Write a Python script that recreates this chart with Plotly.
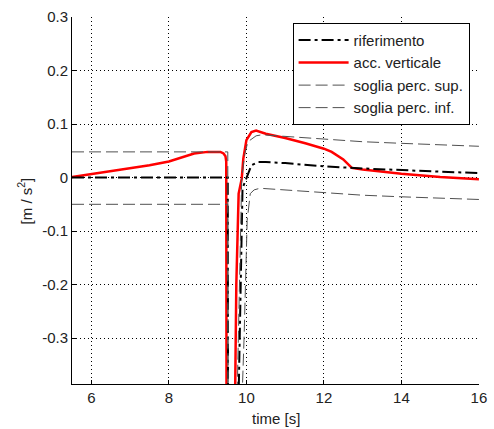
import plotly.graph_objects as go

# --- data ---
t_acc = [5.5, 6.0, 6.72, 7.5, 8.0, 8.4, 8.65, 9.0, 9.33, 9.41, 9.46, 9.48, 9.49, 9.68, 9.74,
         9.8, 9.88, 9.92, 10.0, 10.13, 10.25, 10.5, 11.0, 11.52, 12.0, 12.2, 12.5, 12.72,
         13.0, 14.0, 15.0, 16.0]
acc_vert = [0.001, 0.0065, 0.015, 0.023, 0.030, 0.040, 0.045, 0.048, 0.048, 0.045, 0.04, 0.03,
            -0.6, -0.6, -0.2, -0.03, -0.002, 0.035, 0.07, 0.085, 0.088, 0.082, 0.074, 0.064,
            0.054, 0.048, 0.034, 0.018, 0.015, 0.007, 0.001, -0.003]

t_ref = [5.5, 9.52, 9.53, 9.75, 9.9, 10.0, 10.13, 10.3, 10.5, 11.0, 12.0, 13.0, 14.0, 15.0, 16.0]
riferimento = [0.0, 0.0, -0.6, -0.6, -0.02, 0.0, 0.023, 0.029, 0.029, 0.027, 0.021, 0.017,
               0.0135, 0.011, 0.0085]

t_sup = [5.5, 9.52, 9.53, 9.72, 9.88, 9.96, 10.04, 10.25, 10.4, 11.0, 12.0, 13.0, 14.0, 15.0, 16.0]
soglia_sup = [0.048, 0.048, -0.55, -0.55, 0.0, 0.045, 0.067, 0.078, 0.08, 0.077, 0.071, 0.067,
              0.064, 0.061, 0.0585]

t_inf = [5.5, 9.52, 9.53, 9.78, 9.94, 10.02, 10.1, 10.2, 10.35, 11.0, 12.0, 13.0, 14.0, 15.0, 16.0]
soglia_inf = [-0.05, -0.05, -0.65, -0.65, -0.3, -0.08, -0.03, -0.023, -0.02, -0.023, -0.029,
              -0.033, -0.036, -0.039, -0.041]

x_ticks = [6, 8, 10, 12, 14, 16]
y_ticks = [-0.3, -0.2, -0.1, 0, 0.1, 0.2, 0.3]
y_ticktext = ["-0.3", "-0.2", "-0.1", "0", "0.1", "0.2", "0.3"]

FONT = "Liberation Sans, Arial, sans-serif"
GRAY = "#505050"
TXT = "#222222"

fig = go.Figure()
fig.add_trace(go.Scatter(x=t_acc, y=acc_vert, mode="lines", name="acc. verticale",
                         line=dict(color="#ff0000", width=2.5), legendrank=2))
fig.add_trace(go.Scatter(x=t_ref, y=riferimento, mode="lines", name="riferimento",
                         line=dict(color="black", width=2, dash="12px,4px,3px,4px"), legendrank=1))
fig.add_trace(go.Scatter(x=t_sup, y=soglia_sup, mode="lines", name="soglia perc. sup.",
                         line=dict(color=GRAY, width=1, dash="12px,5px"), legendrank=3))
fig.add_trace(go.Scatter(x=t_inf, y=soglia_inf, mode="lines", name="soglia perc. inf.",
                         line=dict(color=GRAY, width=1, dash="12px,5px"), legendrank=4))

axis_common = dict(showgrid=True, gridcolor="black", gridwidth=1, griddash="1px,3px",
                   zeroline=False, showline=True, linecolor="black", linewidth=1,
                   ticks="inside", ticklen=4, tickcolor="black", ticklabeloverflow="allow",
                   tickfont=dict(family=FONT, size=15, color=TXT))

fig.update_xaxes(range=[5.5, 16.002], tickvals=x_ticks, ticktext=[str(v) for v in x_ticks], **axis_common)
fig.update_yaxes(range=[-0.386, 0.3002], tickvals=y_ticks, ticktext=y_ticktext, **axis_common)

fig.update_layout(
    width=494, height=429,
    margin=dict(l=72, r=7, t=17, b=45),
    paper_bgcolor="white", plot_bgcolor="white",
    font=dict(family=FONT, size=15, color=TXT),
    showlegend=True,
    legend=dict(x=0.542, y=0.984, xanchor="left", yanchor="top",
                bgcolor="white", bordercolor="black", borderwidth=1,
                font=dict(family=FONT, size=15, color=TXT),
                itemwidth=50, tracegroupgap=0),
    annotations=[
        dict(text="time [s]", x=0.5, xref="paper", y=-(418 - 384) / 367.0, yref="paper",
             yanchor="middle", showarrow=False, font=dict(family=FONT, size=15, color=TXT)),
        dict(text="[m / s<sup>2</sup>]", x=-(72 - 24) / 415.0, xanchor="center", y=0.5,
             xref="paper", yref="paper", textangle=-90, showarrow=False,
             font=dict(family=FONT, size=15, color=TXT)),
    ],
)

fig.write_html("out.html")
